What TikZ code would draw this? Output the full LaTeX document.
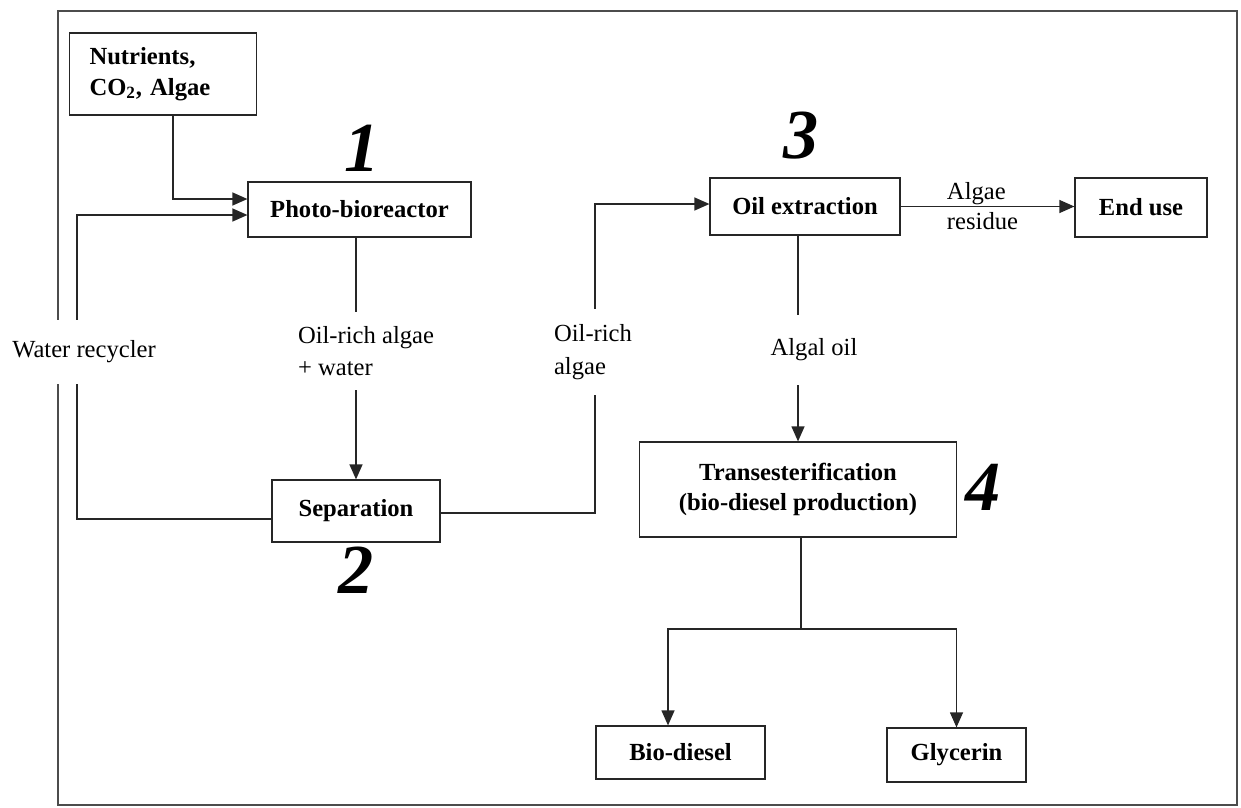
\documentclass[tikz,border=0pt]{standalone}
\usepackage{fontspec}
\setmainfont{Liberation Serif}
\usetikzlibrary{arrows.meta}
\begin{document}
\begin{tikzpicture}[x=0.02cm,y=-0.02cm]
\tikzstyle{box} = [draw=black!85, line width=0.7pt, align=center, inner sep=2pt, font=\bfseries\fontsize{14}{17.5}\selectfont]
\tikzstyle{edge} = [draw=black!85, line width=0.7pt]
\tikzstyle{arrow} = [edge, -{Triangle[length=3mm,width=2.6mm]}]
\tikzstyle{flowtext} = [fill=white, align=left, inner xsep=2pt, font=\fontsize{14}{18.5}\selectfont]
\tikzstyle{num} = [font=\bfseries\itshape\fontsize{40}{40}\selectfont]

\useasboundingbox (0,0) rectangle (1241,808);
\draw[edge, draw=black!70] (58,11) rectangle (1237,805);

\node[box, text width=2.94cm, inner xsep=0.4cm, minimum height=1.64cm, align=left] (N) at (163,74) {Nutrients,\\CO\textsubscript{2}, Algae};
\node[box, minimum width=4.46cm, minimum height=1.1cm] (PB) at (359.5,209.5) {Photo-bioreactor};
\node[box, minimum width=3.36cm, minimum height=1.24cm] (S) at (356,511) {Separation};
\node[box, minimum width=3.8cm, minimum height=1.14cm] (OE) at (805,206.5) {Oil extraction};
\node[box, minimum width=2.64cm, minimum height=1.18cm] (EU) at (1141,207.5) {End use};
\node[box, minimum width=6.34cm, minimum height=1.9cm] (T) at (798,489.5) {Transesterification\\(bio-diesel production)};
\node[box, minimum width=3.38cm, minimum height=1.06cm] (BD) at (680.5,752.5) {Bio-diesel};
\node[box, minimum width=2.78cm, minimum height=1.08cm] (G) at (956.5,755) {Glycerin};

\node[num] (n1) at (362,148) {1};
\node[num] (n2) at (356,570) {2};
\node[num] (n3) at (801,136) {3};
\node[num] (n4) at (983,487) {4};

\coordinate (wr) at (77,355);
\coordinate (or) at (595,354);
\coordinate (split) at (801,629);

\draw[arrow] ([xshift=0.2cm]N.south) |- ([yshift=0.21cm]PB.west);
\draw[arrow] ([yshift=-0.16cm]S.west) -| (wr) |- ([yshift=-0.11cm]PB.west);
\draw[arrow] (PB.south -| S.north) -- (S.north);
\draw[arrow] ([yshift=-0.04cm]S.east) -| (or) |- ([yshift=0.05cm]OE.west);
\draw[arrow] (OE.east) -- (EU.west |- OE.east) node[midway, xshift=-0.1cm, align=left, font=\fontsize{14}{17}\selectfont] {Algae\\residue};
\draw[arrow] (OE.south -| T.north) -- (T.north);
\draw[edge] (T.south -| split) -- (split);
\draw[arrow] (split) -| ([xshift=-0.25cm]BD.north);
\draw[arrow] (split) -| (G.north);

\node[flowtext, inner ysep=0.42cm] (wrlab) at (84,352) {Water recycler};
\node[flowtext, inner ysep=0.29cm] (walab) at (366,351) {Oil-rich algae\\+ water};
\node[flowtext, inner ysep=0.32cm] (oalab) at (593,352) {Oil-rich\\algae};
\node[flowtext, inner ysep=0.47cm] (aolab) at (814,350) {Algal oil};
\end{tikzpicture}
\end{document}
